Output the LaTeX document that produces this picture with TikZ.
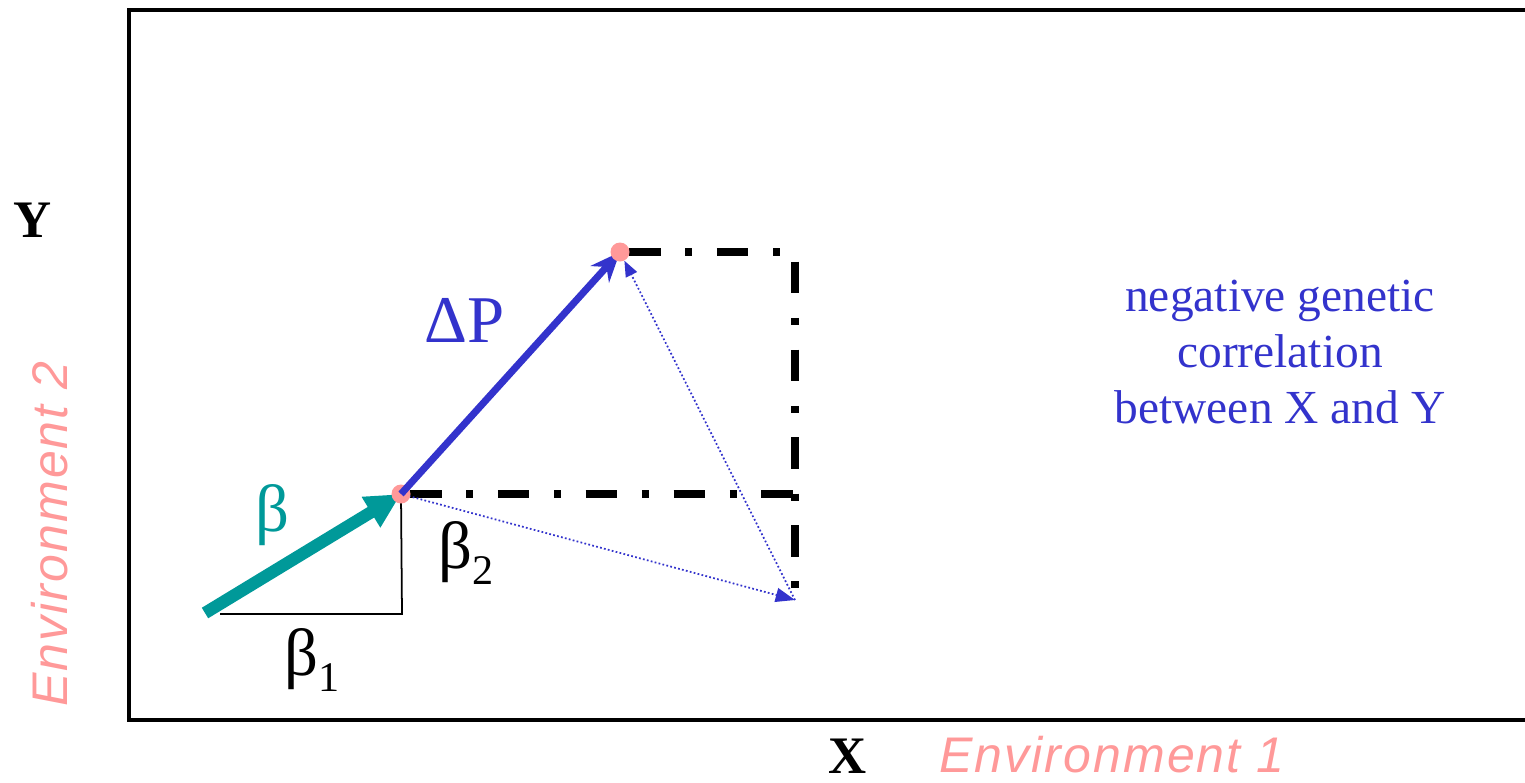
\documentclass[tikz,border=0pt]{standalone}
\usepackage{fontspec}
\setmainfont{Liberation Serif}
\newfontfamily\envfont[LetterSpace=4]{Liberation Sans}
\usetikzlibrary{arrows.meta,calc,positioning}

\definecolor{envpink}{RGB}{255,153,153}
\definecolor{betateal}{RGB}{0,153,153}
\definecolor{dpblue}{RGB}{51,51,204}

\tikzset{
  dot/.style={circle,fill=envpink,inner sep=0pt,minimum size=0.38cm},
  dashdot/.style={line width=4pt,dash pattern=on 18pt off 14pt on 4pt off 14pt},
  dots/.style={dpblue,line width=1pt,dash pattern=on 1pt off 1.3pt},
  axislabel/.style={inner sep=0pt,font=\fontsize{30}{36}\selectfont\bfseries},
  envlabel/.style={text=envpink,font=\envfont\itshape\fontsize{28.5}{32}\selectfont},
  greek/.style={font=\fontsize{38}{44}\selectfont}
}

\begin{document}
\begin{tikzpicture}[x=0.02cm,y=-0.02cm]
  \useasboundingbox (0,0) rectangle (1525,782);
  % frame
  \draw[line width=2pt] (1530,10) -- (129,10) -- (129,720) -- (1530,720);

  % axis labels
  \node[axislabel] (ylab) at (33,220) {Y};
  \node[axislabel] (xlab) at (848,756) {X};
  \node[envlabel] (env1) at (1112,755) {Environment 1};
  \node[envlabel,rotate=90] (env2) at (50,534) {Environment 2};

  % points
  \coordinate (start) at (205,613);
  \coordinate (foot) at (402,614);
  \coordinate (corner) at (795,600);
  \coordinate (topright) at (795,252);
  \coordinate (p1) at (401,494);
  \coordinate (p2) at (620,252);

  % dash-dot box
  \draw[dashdot] ($(p1)+(9,0)$) -- (p1 -| corner);
  \draw[dashdot] ($(p2)+(9,0)$) -- (topright) -- (corner);

  % beta components
  \draw[line width=1pt] (220,614) -- (foot) -- (p1);

  % dotted arrows
  \draw[dots,-{Triangle[length=11pt,width=8pt]}] (p1) -- (corner);
  \draw[dots,-{Triangle[length=9pt,width=7pt]}] (corner) -- ($(p2)!0.025!(corner)$);

  % selection gradient and response
  \draw[betateal,line width=7pt,-{Triangle[length=20pt,width=19pt]}] (start) -- (p1);
  \node[dot] (middot) at (p1) {};
  \draw[dpblue,line width=4pt,-{Stealth[length=17pt,width=14pt]}] (middot.center) -- (p2);
  \node[dot] (topdot) at (p2) {};

  % labels
  \node[greek,text=betateal] (beta) at (272,515) {β};
  \node[greek,text=dpblue] (dp) at (465,320) {ΔP};
  \node[greek] (beta2) at (466,553) {β\raisebox{-0.25em}{\fontsize{24}{28}\selectfont 2}};
  \node[greek] (beta1) at (312,660) {β\raisebox{-0.25em}{\fontsize{24}{28}\selectfont 1}};
  \node[text=dpblue,align=center,font=\fontsize{27}{32}\selectfont] (note) at (1280,352)
    {negative genetic\\correlation\\between X and Y};
\end{tikzpicture}
\end{document}
